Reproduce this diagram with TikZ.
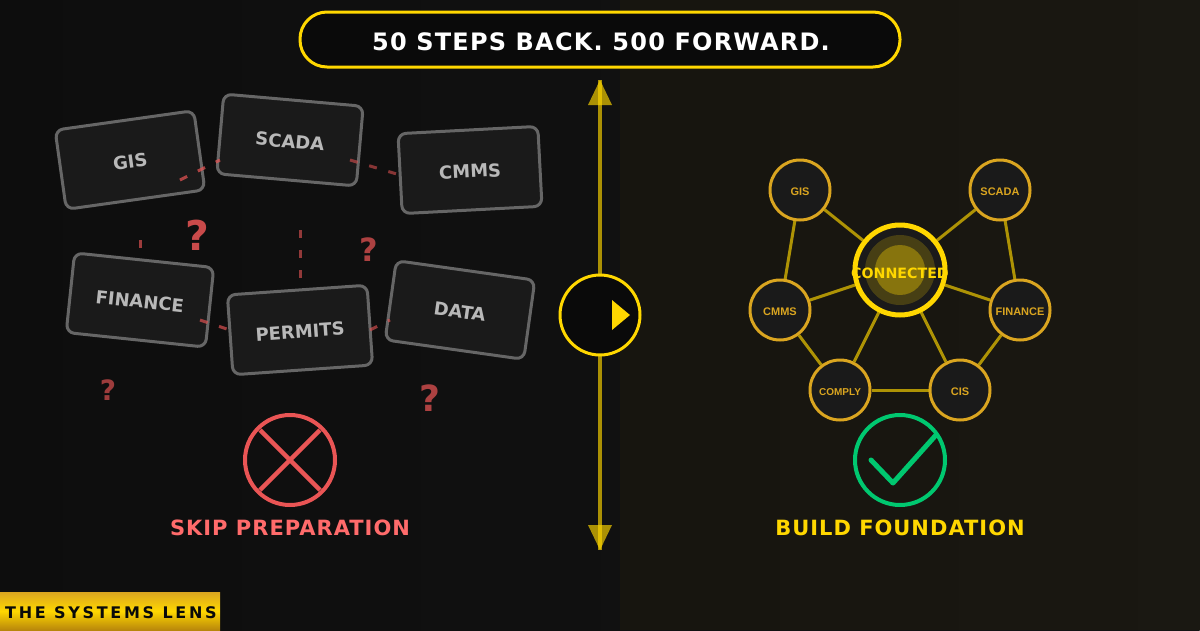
\documentclass[tikz,border=0pt]{standalone}
\usepackage{fontspec}
\usetikzlibrary{shadings}
\setmainfont{DejaVu Sans}
\newfontfamily\dvb[Scale=1]{DejaVu Sans Bold}
\newfontfamily\dvtitle[LetterSpace=5.1]{DejaVu Sans Bold}
\newfontfamily\dvlabel[LetterSpace=4.76]{DejaVu Sans Bold}
\newfontfamily\dvfoot[LetterSpace=16.9]{DejaVu Sans Bold}
\newfontfamily\lsb{Liberation Sans Bold}
\definecolor{gold}{HTML}{FFD700}
\definecolor{dgold}{HTML}{DAA520}
\definecolor{bgold}{HTML}{B8860B}
\definecolor{redx}{HTML}{EA5555}
\definecolor{redt}{HTML}{FF6B6B}
\definecolor{ink}{HTML}{0A0A0A}
\definecolor{bgend}{HTML}{171717}
\definecolor{panel}{HTML}{1A1A1A}
\definecolor{boxline}{HTML}{666666}
\definecolor{boxtext}{HTML}{B8B8B8}
\definecolor{greenok}{HTML}{00C870}
\definecolor{tint}{HTML}{645000}
\tikzset{
  oldbox/.style={draw=boxline,line width=3,fill=panel,rounded corners=8,minimum width=140,minimum height=80,inner sep=0,text=boxtext,text height=16,text depth=0,font=\dvb\fontsize{18}{20}\selectfont},
  sat/.style={circle,draw=dgold,line width=3,fill=panel,minimum size=60,inner sep=0,text=dgold,text height=11,text depth=0,font=\lsb\fontsize{11}{13}\selectfont},
  link/.style={draw=gold,draw opacity=.65,line width=3},
  broken/.style={draw=redx,line width=3,dash pattern=on 8 off 12},
  qmark/.style={text=redx,inner sep=0,anchor=base},
  halo/.style={circle,fill=gold,minimum size=#1,inner sep=0}
}
\begin{document}
\begin{tikzpicture}[x=1pt,y=-1pt,line join=round]
\useasboundingbox (0,0) rectangle (1200,630);
% backgrounds
\begin{scope}
\clip (0,0) rectangle (1200,630);
\begin{scope}[shift={(600,315)},rotate=-45]
\shade[left color=ink,right color=bgend] (-647,-1000) rectangle (647,1000);
\end{scope}
\end{scope}
\fill[tint,opacity=.08] (620,0) rectangle (1200,630);

% old boxes
\node[oldbox,rotate=8]  (gis)  at (130,160) {GIS};
\node[oldbox,rotate=-5] (scada) at (290,140) {SCADA};
\node[oldbox,rotate=3]  (cmms) at (470,170) {CMMS};
\node[oldbox,rotate=-6] (fin)  at (140,300) {FINANCE};
\node[oldbox,rotate=4]  (perm) at (300,330) {PERMITS};
\node[oldbox,rotate=-8] (data) at (460,310) {DATA};

% broken connectors
\coordinate (b1a) at (180,180); \coordinate (b1b) at (220,160);
\coordinate (b2a) at (350,160); \coordinate (b2b) at (400,175);
\coordinate (b3a) at (140,240); \coordinate (b3b) at (140,260);
\coordinate (b4a) at (300,230); \coordinate (b4b) at (300,280);
\coordinate (b5a) at (200,320); \coordinate (b5b) at (230,330);
\coordinate (b6a) at (370,330); \coordinate (b6b) at (390,320);
\draw[broken,draw opacity=.7] (b1a) -- (b1b);
\draw[broken,draw opacity=.55] (b2a) -- (b2b);
\draw[broken,draw opacity=.65] (b3a) -- (b3b);
\draw[broken,draw opacity=.6] (b4a) -- (b4b);
\draw[broken,draw opacity=.65] (b5a) -- (b5b);
\draw[broken,draw opacity=.6] (b6a) -- (b6b);

% question marks
\node[qmark,text opacity=.85,font=\dvb\fontsize{41}{44}\selectfont] (q1) at (197,250) {?};
\node[qmark,text opacity=.72,font=\dvb\fontsize{32}{34}\selectfont] (q2) at (369,261) {?};
\node[qmark,text opacity=.65,font=\dvb\fontsize{28}{30}\selectfont] (q3) at (108,400) {?};
\node[qmark,text opacity=.72,font=\dvb\fontsize{36}{38}\selectfont] (q4) at (430,411) {?};

% X badge
\node[circle,draw=redx,line width=4,minimum size=90,inner sep=0] (xc) at (290,460) {};
\coordinate (x1) at (260,430); \coordinate (x2) at (320,490);
\coordinate (x3) at (320,430); \coordinate (x4) at (260,490);
\draw[redx,line width=4.5] (x1) -- (x2);
\draw[redx,line width=4.5] (x3) -- (x4);
\node[anchor=base,inner sep=0,text=redt,font=\dvlabel\fontsize{21}{24}\selectfont] (skip) at (290,535) {SKIP PREPARATION};

% divider
\coordinate (dt) at (600,80); \coordinate (db) at (600,550);
\draw[gold,opacity=.65,line width=4] (dt) -- (db);
\fill[gold,opacity=.65] (600,80) -- (588,105) -- (612,105) -- cycle;
\fill[gold,opacity=.65] (600,550) -- (588,525) -- (612,525) -- cycle;
\node[circle,draw=gold,line width=3,fill=ink,minimum size=80,inner sep=0] (mid) at (600,315) {};
\fill[gold] (612,300) -- (630,315) -- (612,330) -- cycle;

% network
\node[circle,draw=gold,line width=5,fill=panel,minimum size=90,inner sep=0] (hub) at (900,270) {};
\node[sat] (ngis) at (800,190) {GIS};
\node[sat] (nscada) at (1000,190) {SCADA};
\node[sat] (ncmms) at (780,310) {CMMS};
\node[sat] (nfin) at (1020,310) {FINANCE};
\node[sat,font=\lsb\fontsize{10}{12}\selectfont] (ncomp) at (840,390) {COMPLY};
\node[sat] (ncis) at (960,390) {CIS};
\foreach \n in {ngis,nscada,ncmms,nfin,ncomp,ncis} \draw[link] (hub) -- (\n);
\draw[link] (ngis) -- (ncmms);
\draw[link] (nscada) -- (nfin);
\draw[link] (ncmms) -- (ncomp);
\draw[link] (nfin) -- (ncis);
\draw[link] (ncomp) -- (ncis);
\node[halo=70,opacity=.2] (h1) at (900,270) {};
\node[halo=50,opacity=.35] (h2) at (900,270) {};
\node[anchor=base,inner sep=0,text=gold,font=\dvb\fontsize{14.2}{16}\selectfont] (hubtext) at (900,278) {CONNECTED};

% check badge
\node[circle,draw=greenok,line width=4,minimum size=90,inner sep=0] (okc) at (900,460) {};
\coordinate (c1) at (871,460); \coordinate (c2) at (893,483); \coordinate (c3) at (936,435);
\draw[greenok,line width=5,line cap=round] (c1) -- (c2) -- (c3);
\node[anchor=base,inner sep=0,text=gold,font=\dvlabel\fontsize{21}{24}\selectfont] (build) at (900,535) {BUILD FOUNDATION};

% title
\node[draw=gold,line width=3,fill=ink,rounded corners=27,minimum width=600,minimum height=55,inner sep=0] (titlebox) at (600,39.5) {};
\node[anchor=base,inner sep=0,text=white,font=\dvtitle\fontsize{24}{28}\selectfont] (titletext) at (601,50) {50 STEPS BACK. 500 FORWARD.};

% footer
\path[top color=dgold,bottom color=bgold,middle color=gold] (0,592) rectangle (220,630);
\node[anchor=base west,inner sep=0,text=ink,font=\dvfoot\fontsize{16}{18}\selectfont] (foot) at (5,618) {THE SYSTEMS LENS};
\end{tikzpicture}
\end{document}
